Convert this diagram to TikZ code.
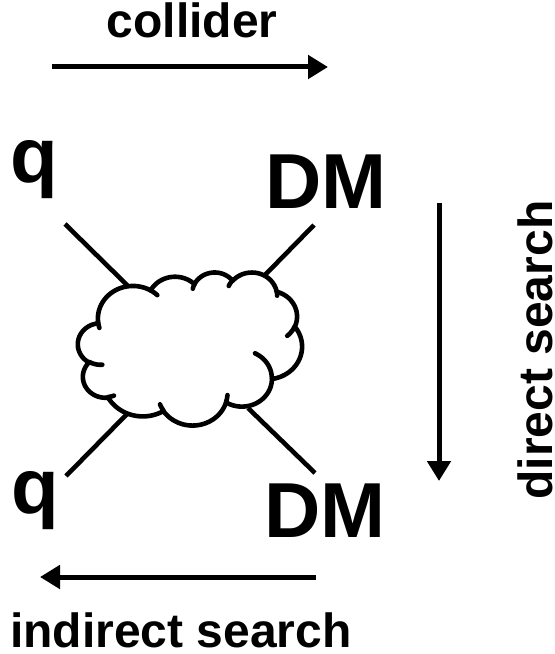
\documentclass[tikz,border=0pt]{standalone}
\usepackage{fontspec}
\setmainfont{Liberation Sans}
\usetikzlibrary{arrows.meta}
\def\CSX{5.185}\def\CSY{3.5417}\def\COX{78}\def\COY{272}
\newcommand\CloudArc[5]{%
  \pgfmathsetmacro\Ta{atan2((#2)*sin(#4),(#3)*cos(#4))}%
  \pgfmathsetmacro\Tb{atan2((#2)*sin((#4)+(#5)),(#3)*cos((#4)+(#5)))}%
  \pgfmathsetmacro\Td{mod(\Tb-\Ta+720,360)}%
  \pgfmathsetmacro\Te{\Ta+\Td}%
  \pgfmathsetmacro\Cx{\CPX-(#2)*cos(\Ta)}%
  \pgfmathsetmacro\Cy{\CPY-(#3)*sin(\Ta)}%
  \pgfmathsetmacro\PCx{\COX+\CSX*\Cx}%
  \pgfmathsetmacro\PCy{\COY+\CSY*\Cy}%
  \pgfmathsetmacro\PRx{\CSX*(#2)}%
  \pgfmathsetmacro\PRy{\CSY*(#3)}%
  \pgfmathsetmacro\Ex{\Cx+(#2)*cos(\Te)}%
  \pgfmathsetmacro\Ey{\Cy+(#3)*sin(\Te)}%
  \xdef\CPX{\Ex}\xdef\CPY{\Ey}%
  \xdef\CloudPath{\unexpanded\expandafter{\CloudPath} #1 plot[domain=\Ta:\Te,samples=40,variable=\noexpand\t] ({\PCx+\PRx*cos(\noexpand\t)},{\PCy+\PRy*sin(\noexpand\t)})}%
}
\newcommand\InnerArc[6]{% start x, start y, wR, hR, stAng, swAng
  \xdef\CPX{#1}\xdef\CPY{#2}%
  \CloudArc{}{#3}{#4}{#5}{#6}%
}
\begin{document}
\begin{tikzpicture}[x=1bp,y=-1bp,
  lbl/.style={font=\fontsize{48bp}{48bp}\selectfont\bfseries, inner sep=0pt, anchor=base},
  big/.style={font=\fontsize{78bp}{78bp}\selectfont\bfseries, inner sep=0pt, anchor=base},
  leg/.style={line width=4.6bp, line cap=butt},
  arr/.style={line width=5bp, -{Triangle[length=20bp,width=23bp]}},
  cloudline/.style={line width=4.6bp, line join=round, line cap=round}]
\useasboundingbox (0,0) rectangle (555,654);
% labels
\node[lbl] (collider) at (192,38) {collider};
\node[lbl] (indirect) at (181,647) {indirect search};
\node[lbl, rotate=90] (direct) at (552,350) {direct search};
\node[big] (q1) at (34,182) {q};
\node[big] (dm1) at (326,208) {DM};
\node[big] (q2) at (35,513) {q};
\node[big] (dm2) at (325,537) {DM};
% arrows
\coordinate (cs) at (52,67);  \coordinate (ce) at (328,67);
\coordinate (ds) at (439,203); \coordinate (de) at (439,481);
\coordinate (is) at (316,577); \coordinate (ie) at (40,577);
\draw[arr] (cs) -- (ce);
\draw[arr] (ds) -- (de);
\draw[arr] (is) -- (ie);
% legs
\coordinate (l1a) at (65,224);  \coordinate (l1b) at (128,286);
\coordinate (l2a) at (314,225); \coordinate (l2b) at (265,275);
\coordinate (l3a) at (66,476);  \coordinate (l3b) at (128,413);
\coordinate (l4a) at (315,473); \coordinate (l4b) at (248,408);
\draw[leg] (l1a) -- (l1b);
\draw[leg] (l2a) -- (l2b);
\draw[leg] (l3a) -- (l3b);
\draw[leg] (l4a) -- (l4b);
% cloud outline
\gdef\CloudPath{}\gdef\CPX{3.9}\gdef\CPY{14.37}
\CloudArc{--}{6.753}{9.19}{-190.4875}{123.7805}
\CloudArc{--}{5.333}{7.267}{-144.1024}{89.9452}
\CloudArc{--}{4.365}{5.945}{-145.8079}{99.7230}
\CloudArc{--}{4.857}{6.595}{-130.9861}{117.2417}
\CloudArc{--}{5.333}{7.273}{-78.7089}{109.0269}
\CloudArc{--}{6.775}{9.22}{-46.2673}{130.2690}
\CloudArc{--}{5.785}{7.867}{0.6250}{114.0333}
\CloudArc{--}{6.752}{9.215}{22.4516}{115.1726}
\CloudArc{--}{7.72}{10.543}{66.2426}{75.7110}
\CloudArc{--}{4.36}{5.918}{-274.9421}{146.7356}
\CloudArc{--}{4.345}{5.945}{-246.8285}{152.5189}
\let\CloudMain\CloudPath
\fill[white] (\COX+\CSX*3.9, \COY+\CSY*14.37) \CloudMain -- cycle;
\draw[cloudline] (\COX+\CSX*3.9, \COY+\CSY*14.37) \CloudMain -- cycle;
% cloud inner strokes
\gdef\CloudPath{}
\InnerArc{4.693}{26.177}{4.345}{5.945}{86.7420}{26.4295}
\InnerArc{6.928}{34.899}{4.36}{5.918}{73.6105}{11.4475}
\InnerArc{16.478}{39.09}{6.752}{9.215}{137.6242}{14.0811}
\InnerArc{28.827}{34.751}{6.752}{9.215}{6.4533}{15.9984}
\InnerArc{34.129}{22.954}{5.785}{7.867}{-70.2924}{70.9174}
\InnerArc{41.798}{15.354}{5.333}{7.273}{30.3180}{27.7515}
\InnerArc{38.324}{5.426}{4.857}{6.595}{-13.7443}{14.8589}
\InnerArc{29.078}{3.952}{4.857}{6.595}{-149.1815}{18.1954}
\InnerArc{22.141}{4.72}{4.365}{5.945}{-163.4943}{17.6864}
\InnerArc{14}{5.192}{6.753}{9.19}{-66.7070}{12.3194}
\InnerArc{4.127}{15.789}{6.753}{9.19}{157.6544}{11.8582}
\draw[cloudline] \CloudPath;
\end{tikzpicture}
\end{document}
